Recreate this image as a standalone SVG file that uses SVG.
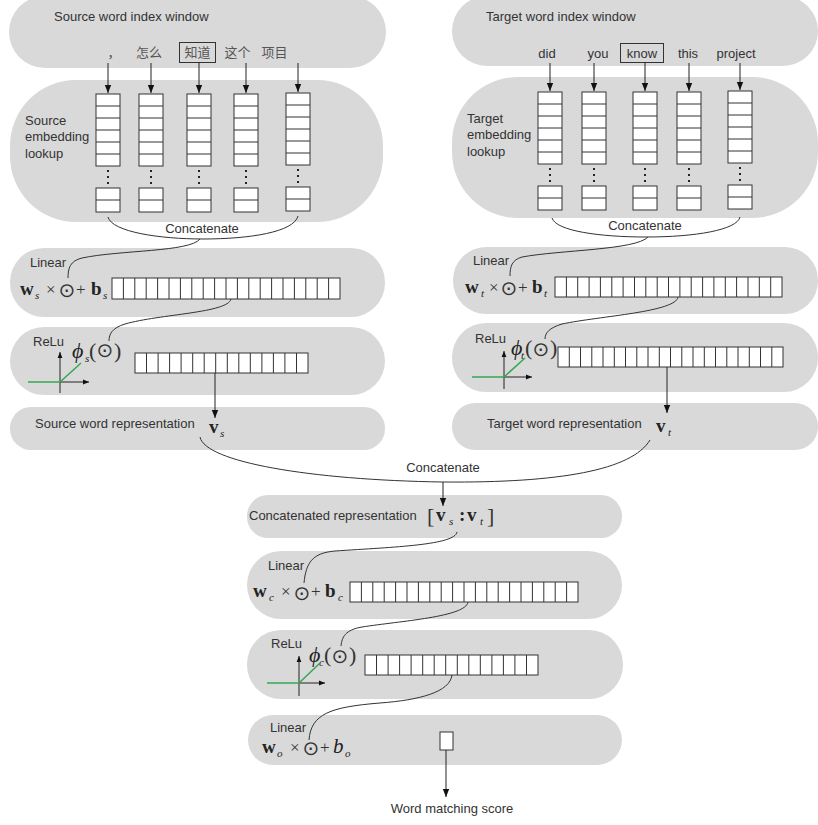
<svg xmlns="http://www.w3.org/2000/svg" xmlns:xlink="http://www.w3.org/1999/xlink" width="818" height="825" viewBox="0 0 818 825">
  <style>
    .pill{fill:#d9d9d9}
    .lbl{font-family:"Liberation Sans",Arial,sans-serif;font-size:13px;fill:#333}
    .mid{text-anchor:middle}
    .cjk{font-family:"Noto Sans CJK SC",sans-serif;font-size:13px;fill:#555;text-anchor:middle}
    .cell{fill:#fff;stroke:#333;stroke-width:1}
    .ln{fill:none;stroke:#333;stroke-width:1}
    .mb{font-family:"Liberation Serif",serif;font-weight:bold;font-size:19px;fill:#222}
    .mi{font-family:"Liberation Serif",serif;font-style:italic;font-size:11px;fill:#222}
    .mib{font-family:"Liberation Serif",serif;font-style:italic;font-size:21px;fill:#222}
    .op{font-family:"Liberation Serif",serif;font-size:17px;fill:#333}
    .par{font-family:"Liberation Serif",serif;font-size:22px;fill:#333}
    .phi{font-family:"Liberation Serif","DejaVu Serif",serif;font-style:italic;font-size:22px;fill:#222}
    .odot{font-family:"DejaVu Sans",sans-serif;font-size:20px;fill:#333;text-anchor:middle}
    .conn{fill:none;stroke:#333;stroke-width:1}
    .arr{fill:none;stroke:#222;stroke-width:1;marker-end:url(#ah)}
    .axis{fill:none;stroke:#222;stroke-width:1;marker-end:url(#sa)}
    .relu{fill:none;stroke:#35a853;stroke-width:1.5}
  </style>
  <defs>
    <marker id="ah" viewBox="0 0 10 10" refX="10" refY="5" markerWidth="8" markerHeight="8" markerUnits="userSpaceOnUse" orient="auto">
      <path d="M0,1 L10,5 L0,9 Z" fill="#111"/>
    </marker>
    <marker id="sa" viewBox="0 0 10 10" refX="10" refY="5" markerWidth="6" markerHeight="6" markerUnits="userSpaceOnUse" orient="auto">
      <path d="M0,1 L10,5 L0,9 Z" fill="#111"/>
    </marker>
    <!-- one embedding column: six visible rows, ellipsis, two trailing rows -->
    <g id="col">
      <rect class="cell" x="0" y="0" width="24" height="72"/>
      <path class="ln" d="M0,12H24M0,24H24M0,36H24M0,48H24M0,60H24"/>
      <rect x="11" y="76" width="2" height="2" fill="#222"/>
      <rect x="11" y="82" width="2" height="2" fill="#222"/>
      <rect x="11" y="88" width="2" height="2" fill="#222"/>
      <rect class="cell" x="0" y="94" width="24" height="24"/>
      <path class="ln" d="M0,106H24"/>
    </g>
  </defs>

  <rect width="818" height="825" fill="#fff"/>

  <!-- source side -->
  <g id="source-window">
    <rect class="pill" x="9" y="-4" width="377" height="72" rx="36"/>
    <text class="lbl" x="54" y="21">Source word index window</text>
    <text class="cjk" x="114" y="57" font-size="14">，</text>
    <text class="cjk" x="149" y="57">怎么</text>
    <rect x="179.5" y="42.5" width="36" height="20" fill="none" stroke="#333"/>
    <text class="cjk" x="197.5" y="57">知道</text>
    <text class="cjk" x="237.5" y="57">这个</text>
    <text class="cjk" x="274.5" y="57">项目</text>
  </g>

  <g id="source-embedding">
    <rect class="pill" x="10" y="80" width="373" height="142" rx="66"/>
    <text class="lbl" x="25" y="125">Source</text>
    <text class="lbl" x="25" y="141">embedding</text>
    <text class="lbl" x="25" y="158">lookup</text>
    <use xlink:href="#col" x="96" y="94"/>
    <use xlink:href="#col" x="139" y="94"/>
    <use xlink:href="#col" x="187" y="94"/>
    <use xlink:href="#col" x="234" y="94"/>
    <use xlink:href="#col" x="286" y="93"/>
  </g>

  <g id="source-linear">
    <rect class="pill" x="10" y="248" width="375" height="69" rx="34"/>
    <text class="lbl" x="30" y="267">Linear</text>
    <text class="mb" x="20" y="295">w</text>
    <text class="mi" x="35" y="299">s</text>
    <text class="op" x="46" y="295">×</text>
    <text class="odot" x="67" y="297">⊙</text>
    <text class="op" x="76" y="295">+</text>
    <text class="mb" x="91" y="295">b</text>
    <text class="mi" x="103" y="299">s</text>
    <rect class="cell" x="112" y="278" width="228" height="21"/>
    <path class="ln" d="M123.4,278V299M134.8,278V299M146.2,278V299M157.6,278V299M169,278V299M180.4,278V299M191.8,278V299M203.2,278V299M214.6,278V299M226,278V299M237.4,278V299M248.8,278V299M260.2,278V299M271.6,278V299M283,278V299M294.4,278V299M305.8,278V299M317.2,278V299M328.6,278V299"/>
  </g>

  <g id="source-relu">
    <rect class="pill" x="10" y="327" width="375" height="68" rx="34"/>
    <text class="lbl" x="33" y="346">ReLu</text>
    <text class="phi" x="72" y="358">ϕ</text>
    <text class="mi" x="85" y="362">s</text>
    <text class="par" x="89" y="358">(</text>
    <text class="odot" x="105" y="357">⊙</text>
    <text class="par" x="114" y="358">)</text>
    <path class="axis" d="M60,393V352"/>
    <path class="axis" d="M60,382H89"/>
    <path class="relu" d="M28,382H60L81,363"/>
    <rect class="cell" x="135" y="353" width="173" height="20"/>
    <path class="ln" d="M146.5,353V373M158.1,353V373M169.6,353V373M181.1,353V373M192.7,353V373M204.2,353V373M215.7,353V373M227.3,353V373M238.8,353V373M250.3,353V373M261.9,353V373M273.4,353V373M284.9,353V373M296.5,353V373"/>
  </g>

  <g id="source-representation">
    <rect class="pill" x="10" y="407" width="375" height="43" rx="21"/>
    <text class="lbl" x="35" y="428">Source word representation</text>
    <text class="mb" x="209" y="433" font-size="20">v</text>
    <text class="mi" x="220" y="437">s</text>
  </g>

  <!-- target side -->
  <g id="target-window">
    <rect class="pill" x="452" y="-4" width="366" height="70" rx="35"/>
    <text class="lbl" x="486" y="21">Target word index window</text>
    <text class="lbl mid" x="547" y="58">did</text>
    <text class="lbl mid" x="598" y="58">you</text>
    <rect x="620.5" y="43.5" width="43" height="19" fill="none" stroke="#333"/>
    <text class="lbl mid" x="642" y="58">know</text>
    <text class="lbl mid" x="688" y="58">this</text>
    <text class="lbl mid" x="736" y="58">project</text>
  </g>

  <g id="target-embedding">
    <rect class="pill" x="452" y="77" width="366" height="141" rx="66"/>
    <text class="lbl" x="467" y="123">Target</text>
    <text class="lbl" x="467" y="139">embedding</text>
    <text class="lbl" x="467" y="156">lookup</text>
    <use xlink:href="#col" x="538" y="92"/>
    <use xlink:href="#col" x="582" y="92"/>
    <use xlink:href="#col" x="633" y="92"/>
    <use xlink:href="#col" x="677" y="92"/>
    <use xlink:href="#col" x="728" y="91"/>
  </g>

  <g id="target-linear">
    <rect class="pill" x="453" y="247" width="365" height="67" rx="33"/>
    <text class="lbl" x="473" y="265">Linear</text>
    <text class="mb" x="465" y="293">w</text>
    <text class="mi" x="481" y="297">t</text>
    <text class="op" x="489" y="293">×</text>
    <text class="odot" x="509" y="294.5">⊙</text>
    <text class="op" x="518" y="293">+</text>
    <text class="mb" x="532" y="293">b</text>
    <text class="mi" x="544" y="297">t</text>
    <rect class="cell" x="555" y="277" width="227" height="20"/>
    <path class="ln" d="M566.4,277V297M577.7,277V297M589.1,277V297M600.4,277V297M611.8,277V297M623.1,277V297M634.5,277V297M645.8,277V297M657.2,277V297M668.5,277V297M679.9,277V297M691.2,277V297M702.6,277V297M713.9,277V297M725.3,277V297M736.6,277V297M748,277V297M759.3,277V297M770.7,277V297"/>
  </g>

  <g id="target-relu">
    <rect class="pill" x="452" y="323" width="366" height="69" rx="34"/>
    <text class="lbl" x="475" y="343">ReLu</text>
    <text class="phi" x="511" y="355">ϕ</text>
    <text class="mi" x="521" y="359">t</text>
    <text class="par" x="525" y="355">(</text>
    <text class="odot" x="541" y="356">⊙</text>
    <text class="par" x="550" y="355">)</text>
    <path class="axis" d="M504,389V351"/>
    <path class="axis" d="M504,377H532"/>
    <path class="relu" d="M472,377H504L525,358"/>
    <rect class="cell" x="558" y="347" width="225" height="20"/>
    <path class="ln" d="M569.3,347V367M580.5,347V367M591.8,347V367M603,347V367M614.3,347V367M625.5,347V367M636.8,347V367M648,347V367M659.3,347V367M670.5,347V367M681.8,347V367M693,347V367M704.3,347V367M715.5,347V367M726.8,347V367M738,347V367M749.3,347V367M760.5,347V367M771.8,347V367"/>
  </g>

  <g id="target-representation">
    <rect class="pill" x="452" y="403" width="366" height="47" rx="23"/>
    <text class="lbl" x="487" y="428">Target word representation</text>
    <text class="mb" x="656" y="432" font-size="20">v</text>
    <text class="mi" x="668" y="436">t</text>
  </g>

  <!-- joint part -->
  <g id="concatenated-representation">
    <rect class="pill" x="247" y="495" width="375" height="43" rx="21"/>
    <text class="lbl" x="249" y="520">Concatenated representation</text>
    <text class="par" x="427" y="523" font-size="24">[</text>
    <text class="mb" x="436" y="521" font-size="20">v</text>
    <text class="mi" x="449" y="525">s</text>
    <text class="mb" x="459" y="521" font-size="18">:</text>
    <text class="mb" x="467" y="521" font-size="20">v</text>
    <text class="mi" x="480" y="525">t</text>
    <text class="par" x="487" y="523" font-size="24">]</text>
  </g>

  <g id="joint-linear">
    <rect class="pill" x="247" y="551" width="375" height="68" rx="34"/>
    <text class="lbl" x="268" y="570">Linear</text>
    <text class="mb" x="253" y="597">w</text>
    <text class="mi" x="269" y="601">c</text>
    <text class="op" x="281" y="597">×</text>
    <text class="odot" x="302" y="600">⊙</text>
    <text class="op" x="311" y="597">+</text>
    <text class="mb" x="325" y="597">b</text>
    <text class="mi" x="338" y="601">c</text>
    <rect class="cell" x="350" y="582" width="228" height="20"/>
    <path class="ln" d="M361.4,582V602M372.8,582V602M384.2,582V602M395.6,582V602M407,582V602M418.4,582V602M429.8,582V602M441.2,582V602M452.6,582V602M464,582V602M475.4,582V602M486.8,582V602M498.2,582V602M509.6,582V602M521,582V602M532.4,582V602M543.8,582V602M555.2,582V602M566.6,582V602"/>
  </g>

  <g id="joint-relu">
    <rect class="pill" x="247" y="630" width="376" height="69" rx="34"/>
    <text class="lbl" x="271" y="648">ReLu</text>
    <text class="phi" x="309" y="662">ϕ</text>
    <text class="mi" x="319" y="666">c</text>
    <text class="par" x="324" y="662">(</text>
    <text class="odot" x="340" y="663">⊙</text>
    <text class="par" x="349" y="662">)</text>
    <path class="axis" d="M299,696V656"/>
    <path class="axis" d="M299,683H325"/>
    <path class="relu" d="M267,683H299L320,663"/>
    <rect class="cell" x="365" y="655" width="173" height="20"/>
    <path class="ln" d="M376.5,655V675M388.1,655V675M399.6,655V675M411.1,655V675M422.7,655V675M434.2,655V675M445.7,655V675M457.3,655V675M468.8,655V675M480.3,655V675M491.9,655V675M503.4,655V675M514.9,655V675M526.5,655V675"/>
  </g>

  <g id="output-linear">
    <rect class="pill" x="248" y="715" width="374" height="50" rx="25"/>
    <text class="lbl" x="270" y="732">Linear</text>
    <text class="mb" x="262" y="753">w</text>
    <text class="mi" x="277" y="757">o</text>
    <text class="op" x="290" y="753">×</text>
    <text class="odot" x="311" y="755">⊙</text>
    <text class="op" x="320" y="753">+</text>
    <text class="mib" x="333" y="753">b</text>
    <text class="mi" x="345" y="757">o</text>
    <rect class="cell" x="440" y="732" width="13" height="18"/>
  </g>

  <g id="score">
    <text class="lbl mid" x="452" y="813">Word matching score</text>
  </g>

  <!-- connectors -->
  <g id="connectors">
    <!-- word index to embedding rows -->
    <path class="arr" d="M108,63V93"/>
    <path class="arr" d="M151,63V93"/>
    <path class="arr" d="M199,62V93"/>
    <path class="arr" d="M246,63V93"/>
    <path class="arr" d="M298,63V92"/>
    <path class="arr" d="M550,63V91"/>
    <path class="arr" d="M594,63V91"/>
    <path class="arr" d="M645,62V91"/>
    <path class="arr" d="M689,63V91"/>
    <path class="arr" d="M740,63V90"/>

    <!-- concatenation braces -->
    <path class="conn" d="M108,217C112,232 160,239 203,239C250,239 294,232 298,216"/>
    <text class="lbl mid" x="202" y="233">Concatenate</text>
    <path class="conn" d="M552,218C556,231 600,237 646,237C695,237 737,230 740,217"/>
    <text class="lbl mid" x="645" y="230">Concatenate</text>

    <!-- into the linear layers -->
    <path class="conn" d="M200,239C190,252 120,250 82,258C70,261 68,268 68,278"/>
    <path class="conn" d="M648,237C636,250 560,250 522,257C512,260 510,266 510,276"/>

    <!-- linear to relu -->
    <path class="conn" d="M231,299C228,313 160,314 125,324C112,328 109,334 109,341"/>
    <path class="conn" d="M678,297C676,312 600,316 562,324C549,328 545,333 545,339"/>

    <!-- relu to word representation -->
    <path class="arr" d="M215,373V418"/>
    <path class="arr" d="M667,367V413"/>

    <!-- joining both representations -->
    <path class="conn" d="M200,437C205,462 310,480 443,482C560,483 632,470 650,440"/>
    <text class="lbl mid" x="443" y="472">Concatenate</text>
    <path class="arr" d="M443,482V506"/>

    <!-- joint stack -->
    <path class="conn" d="M457,532C455,545 395,547 335,551C312,553 306,563 304,583"/>
    <path class="conn" d="M468,602C466,617 400,621 362,627C345,630 342,637 341,646"/>
    <path class="conn" d="M452,675C450,692 420,700 380,703C330,707 311,714 309,740"/>
    <path class="arr" d="M446,750V797"/>
  </g>
</svg>
